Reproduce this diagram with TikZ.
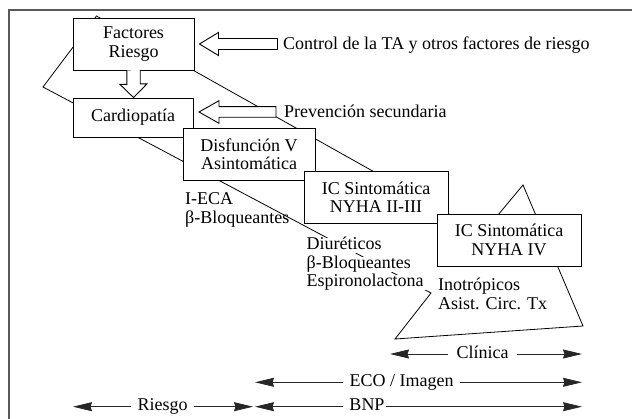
\documentclass[tikz,border=0pt]{standalone}
\usepackage{fontspec}
\setmainfont{Liberation Serif}
\usetikzlibrary{arrows.meta,calc}
\begin{document}
\begin{tikzpicture}[x=1pt,y=-1pt,
  every node/.style={font=\fontsize{18}{18.3}\selectfont},
  box/.style={draw, fill=white, line width=0.9pt, align=center, inner sep=0pt},
  lbl/.style={inner sep=0pt, anchor=base west},
  wlbl/.style={fill=white, inner xsep=3pt, inner ysep=0pt, anchor=base west,
               text height=11.5pt, text depth=3.3pt},
  fatarrow/.style={draw, fill=white, line width=0.9pt, line join=miter},
  outline/.style={line width=0.8pt, line join=miter},
  spanlbl/.style={fill=white, inner ysep=0pt, anchor=base},
  span/.style={line width=0.8pt, draw=black!85,
               -{Stealth[length=19pt,width=9pt,inset=1.5pt]}},
  frame/.style={line width=1.5pt, draw=black!65}
]
\useasboundingbox (0,0) rectangle (632,419);
\fill[white] (0,0) rectangle (632,419);

% outer frame (top and left sides)
\draw[frame] (9,419) -- (9,10) -- (632,10);

% progression band widening into the triangle
\coordinate (p1) at (96.5,16);
\coordinate (p2) at (43,87);
\coordinate (p3) at (431,293);
\coordinate (p4) at (395,339);
\coordinate (p5) at (583,326);
\coordinate (p6) at (523,185);
\coordinate (p7) at (483,233);
\draw[outline] (p1) -- (p2) -- (p3) -- (p4) -- (p5) -- (p6) -- (p7) -- cycle;

% treatment labels
\node[lbl] (eca1) at (185,205) {I-ECA};
\node[lbl] (eca2) at (185,223.3) {β-Bloqueantes};
\node[wlbl] (diu1) at (303.5,249.3) {Diuréticos};
\node[wlbl] (diu2) at (303.5,268.3) {β-Bloqueantes};
\node[wlbl] (diu3) at (303.5,286.7) {Espironolactona};
\node[wlbl, inner xsep=2pt, text height=24pt] (ino1) at (436,290.7) {Inotrópicos};
\node[lbl] (ino2) at (438,309.3) {Asist. Circ. Tx};

% stages
\node[box, minimum width=121pt, minimum height=52pt] (fr) at (133.5,44) {Factores\\Riesgo};
\node[box, minimum width=120pt, minimum height=39pt] (cp) at (133,117.5) {Cardiopatía};
\node[box, minimum width=132pt, minimum height=52pt] (dv) at (249,154) {Disfunción V\\Asintomática};
\node[box, minimum width=144pt, minimum height=52pt] (ic3) at (376,197) {IC Sintomática\\NYHA II-III};
\node[box, minimum width=144pt, minimum height=52pt] (ic4) at (509,240) {IC Sintomática\\NYHA IV};

% block arrows
\draw[fatarrow] ($(fr.south)+(-6.7,0)$) -- ++(0,14) -- ++(-6.8,0)
  -- (cp.north -| fr.south) -- ++(13.5,-13.7) -- ++(-6.8,0) -- ++(0,-14);
\node[lbl] (ctrl) at (283,50) {Control de la TA y otros factores de riesgo};
\draw[fatarrow] ($(fr.east)+(5,0)$) -- ++(19,-11.5) -- ++(0,6) -- ++(59,0)
  -- ++(0,11) -- ++(-59,0) -- ++(0,6) -- cycle;
\node[lbl] (prev) at (284,118) {Prevención secundaria};
\draw[fatarrow] (199,112) -- ++(20,-11.3) -- ++(0,6) -- ++(57,0)
  -- ++(0,10.6) -- ++(-57,0) -- ++(0,6) -- cycle;

% diagnostic spans
\coordinate (cl-a) at (390,354);   \coordinate (cl-b) at (582,354);
\coordinate (eco-a) at (255,382.3); \coordinate (eco-b) at (582,382.3);
\coordinate (bnp-a) at (255,406.7); \coordinate (bnp-b) at (582,406.7);
\coordinate (rg-a) at (73,406.7);   \coordinate (rg-b) at (253,406.7);

\node[spanlbl, inner xsep=8pt] (clin) at (482.5,358.3) {Clínica};
\draw[span] (clin.west |- cl-a) -- (cl-a);
\draw[span] (clin.east |- cl-b) -- (cl-b);

\node[spanlbl, inner xsep=6pt] (eco) at (401.5,386.3) {ECO / Imagen};
\draw[span] (eco.west |- eco-a) -- (eco-a);
\draw[span] (eco.east |- eco-b) -- (eco-b);

\node[spanlbl, inner xsep=0pt] (bnp) at (367,410.5) {BNP};
\draw[span] ($(bnp.west |- bnp-a)+(-6.5,0)$) -- (bnp-a);
\draw[span] ($(bnp.east |- bnp-b)+(1,0)$) -- (bnp-b);

\node[spanlbl, inner xsep=6.5pt] (rg) at (162.5,410.7) {Riesgo};
\draw[span] (rg.west |- rg-a) -- (rg-a);
\draw[span] (rg.east |- rg-b) -- (rg-b);
\end{tikzpicture}
\end{document}
